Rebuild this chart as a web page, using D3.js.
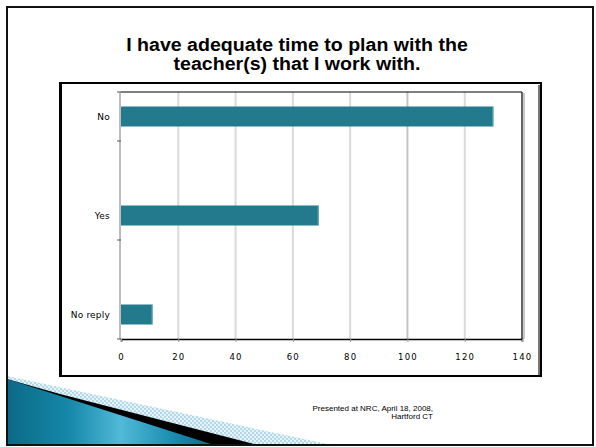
<!DOCTYPE html>
<html>
<head>
<meta charset="utf-8">
<script src="https://cdn.jsdelivr.net/npm/d3@7"></script>
<style>
  body { margin: 0; background: #fff; }
  svg { display: block; }
</style>
</head>
<body>
<script>
// chart data
const categories = ["No", "Yes", "No reply"];
const counts = [130, 69, 11];
const xTicks = [0, 20, 40, 60, 80, 100, 120, 140];
const titleLines = ["I have adequate time to plan with the", "teacher(s) that I work with."];
const footerLines = ["Presented at NRC, April 18, 2008,", "Hartford CT"];

const W = 596, H = 447;
const svg = d3.select("body").append("svg")
    .attr("width", W)
    .attr("height", H);

const defs = svg.append("defs");

// teal gradient for the slide decoration
const grad = defs.append("linearGradient")
    .attr("id", "teal")
    .attr("x1", "0%").attr("y1", "0%")
    .attr("x2", "100%").attr("y2", "0%");
[["0%", "#0b6a86"], ["30%", "#1688a9"], ["55%", "#52b9d8"], ["80%", "#1b8db0"], ["100%", "#0b6884"]]
    .forEach(s => grad.append("stop").attr("offset", s[0]).attr("stop-color", s[1]));

const pat = defs.append("pattern")
    .attr("id", "check")
    .attr("width", 4).attr("height", 4)
    .attr("patternUnits", "userSpaceOnUse");
pat.append("rect").attr("width", 4).attr("height", 4).attr("fill", "#e6f3f8");
pat.append("rect").attr("width", 2).attr("height", 2).attr("fill", "#b3d9e8");
pat.append("rect").attr("x", 2).attr("y", 2).attr("width", 2).attr("height", 2).attr("fill", "#b3d9e8");

// slide decoration (bottom-left)
svg.append("polygon")
    .attr("points", "7,376 332,445 7,445")
    .attr("fill", "url(#check)");
svg.append("polygon")
    .attr("points", "7,379 60,394 258,445 7,445")
    .attr("fill", "#000");
svg.append("polygon")
    .attr("points", "7,379 214,445 7,445")
    .attr("fill", "url(#teal)");

// slide border
svg.append("rect")
    .attr("x", 7).attr("y", 7)
    .attr("width", 586).attr("height", 438)
    .attr("fill", "none")
    .attr("stroke", "#111")
    .attr("stroke-width", 2);

// title (the slide font is a bit wider than Arial, so stretch it a little)
svg.append("g")
    .attr("transform", "translate(297,0) scale(1.12,1)")
    .selectAll("text")
    .data(titleLines)
    .join("text")
    .attr("x", 0)
    .attr("y", (d, i) => 51 + i * 19)
    .attr("text-anchor", "middle")
    .attr("font-family", "Liberation Sans, Arial, sans-serif")
    .attr("font-weight", "bold")
    .attr("font-size", 17.5)
    .attr("fill", "#000")
    .text(d => d);

// footer
svg.append("g")
    .selectAll("text")
    .data(footerLines)
    .join("text")
    .attr("x", 433)
    .attr("y", (d, i) => 411 + i * 8)
    .attr("text-anchor", "end")
    .attr("font-family", "Liberation Sans, Arial, sans-serif")
    .attr("font-size", 8)
    .attr("fill", "#000")
    .text(d => d);

// chart frame
svg.append("rect")
    .attr("x", 60).attr("y", 83)
    .attr("width", 481).attr("height", 293)
    .attr("fill", "#fff")
    .attr("stroke", "#000")
    .attr("stroke-width", 2);
svg.append("line")
    .attr("x1", 539).attr("x2", 539)
    .attr("y1", 85).attr("y2", 375)
    .attr("stroke", "#777").attr("stroke-width", 2);
svg.append("line")
    .attr("x1", 61).attr("x2", 61)
    .attr("y1", 83).attr("y2", 376)
    .attr("stroke", "#000").attr("stroke-width", 2);

// scales
const x = d3.scaleLinear().domain([0, 140]).range([121, 522]);
const y = d3.scalePoint().domain(categories).range([116.5, 314.5]);
const barH = 20;
const plotTop = 92, plotBottom = 339;

// grid lines
svg.append("g")
    .selectAll("line")
    .data(xTicks.slice(1, -1))
    .join("line")
    .attr("x1", d => x(d)).attr("x2", d => x(d))
    .attr("y1", plotTop).attr("y2", plotBottom)
    .attr("stroke", d => d === 100 ? "#c4c4c4" : "#dadada")
    .attr("stroke-width", 2);

// plot border (top/right)
svg.append("line")
    .attr("x1", x(0)).attr("x2", x(140))
    .attr("y1", plotTop).attr("y2", plotTop)
    .attr("stroke", "#000").attr("stroke-width", 1);
svg.append("line")
    .attr("x1", x(140) + 2).attr("x2", x(140) + 2)
    .attr("y1", plotTop + 1).attr("y2", plotBottom)
    .attr("stroke", "#c8c8c8").attr("stroke-width", 2);
svg.append("line")
    .attr("x1", x(140)).attr("x2", x(140))
    .attr("y1", plotTop).attr("y2", plotBottom)
    .attr("stroke", "#000").attr("stroke-width", 1.2);

// bars
svg.append("g")
    .selectAll("rect")
    .data(categories)
    .join("rect")
    .attr("x", x(0))
    .attr("y", d => y(d) - barH / 2)
    .attr("width", (d, i) => x(counts[i]) - x(0))
    .attr("height", barH)
    .attr("fill", "#237a8c");
svg.append("g")
    .selectAll("line")
    .data(categories)
    .join("line")
    .attr("x1", (d, i) => x(counts[i]) - 0.5)
    .attr("x2", (d, i) => x(counts[i]) - 0.5)
    .attr("y1", d => y(d) - barH / 2)
    .attr("y2", d => y(d) + barH / 2)
    .attr("stroke", "#5aa9b9").attr("stroke-width", 1);

// y axis
svg.append("line")
    .attr("x1", x(0) - 1).attr("x2", x(0) - 1)
    .attr("y1", plotTop).attr("y2", plotBottom)
    .attr("stroke", "#bdbdbd").attr("stroke-width", 2);
const yTickPos = [plotTop].concat(categories.map(c => y(c) + 24.5));
svg.append("g")
    .selectAll("line")
    .data(yTickPos)
    .join("line")
    .attr("x1", x(0) - 4).attr("x2", x(0))
    .attr("y1", d => d).attr("y2", d => d)
    .attr("stroke", "#555").attr("stroke-width", 1);

svg.append("g")
    .selectAll("text")
    .data(categories)
    .join("text")
    .attr("x", 110)
    .attr("y", d => y(d))
    .attr("dy", "0.35em")
    .attr("text-anchor", "end")
    .attr("font-family", "DejaVu Sans, Verdana, sans-serif")
    .attr("font-size", 9)
    .attr("letter-spacing", 0.2)
    .attr("fill", "#000")
    .text(d => d);

// x axis
const xAxis = svg.append("g")
    .attr("transform", `translate(0,${plotBottom})`)
    .call(d3.axisBottom(x).tickValues(xTicks).tickSize(3).tickPadding(12).tickFormat(d3.format("d")));
xAxis.select(".domain").attr("stroke", "#000").attr("stroke-width", 1.5);
xAxis.selectAll(".tick line").attr("stroke", "#999");
xAxis.selectAll("text")
    .attr("font-family", "DejaVu Sans, Verdana, sans-serif")
    .attr("font-size", 8.5)
    .attr("letter-spacing", 1.2)
    .attr("fill", "#000");
</script>
</body>
</html>
